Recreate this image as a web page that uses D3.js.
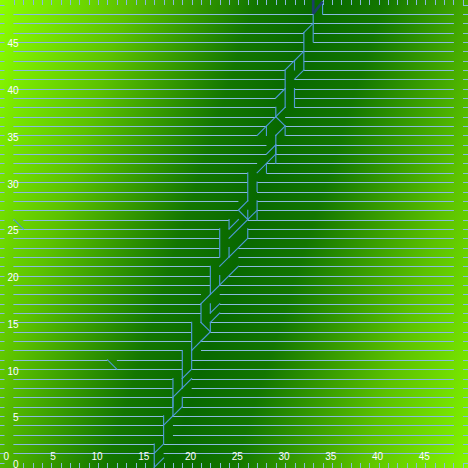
<!DOCTYPE html>
<html><head><meta charset="utf-8">
<script src="https://cdn.jsdelivr.net/npm/d3@7"></script>
<style>html,body{margin:0;padding:0;overflow:hidden}svg{display:block}</style>
</head><body><svg id="c" width="468" height="468"></svg>
<script>
// rows 1..48 : where each horizontal line stops (left part) and restarts (right part)
const rowValues  = d3.range(1, 49);
const leftEnd    = [15,15,16,16,16,17,17,17,17,18,18,18,19,19,19,20,20,20,21,21,21,22,22,22,22,23,24,24,25,25,25,26,27,27,26,27,28,28,28,29,29,29,30,31,31,31,32,32];
const rightStart = [16,16,17,17,17,18,18,19,19,19,19,20,20,21,21,22,22,22,22,23,24,24,24,25,25,25,26,26,26,26,27,27,28,28,29,29,29,30,30,30,30,31,31,31,32,32,32,33];
const lineMin = -0.07, lineMax = 47.05;
// extra breaks [row, from, to]
const rowBreaks = [[11,10,11],[26,0,1]];
// connector segments [x1,y1,x2,y2]
const trunk = [
 [15,2,15,-0.6],[15,-0.5,16,0.5],[16,5,16,2],[16,2,15,1],[17,7,17,5],[17,5,16,4],
 [18,7,18,6],[18,6,17,5],[18,9,18,8],[18,8,19,9],[17,9,17,6],[18,8,17,7],
 [18,12,18,9],[19,10,18,9],[19,12,19,10],[19,15,19,12],[20,13,19,12],[21,14,20,13],
 [21,15,21,14],[20,15,21,14],[22,16,21,15],[20,17,20,15],[21,17,21,16],[22,17,21,16],
 [22,19,20,17],[22,20,22,19],[24,21,22,19],[21,21,21,18],[23,22,22,21],[23,23,23,22],
 [25,24,23,22],[25,25,25,24],[22,25,22,22],[25,26,23,24],[23,26,23,25],[24,26,23,25],
 [24,27,25,26],[25,27,25,26],[25,26,26,27],[26,28,26,26],[25,31,25,28],[24,27,25,28],
 [26,30,26,29],[27,32,27,31],[26,31,28,33],[28,34,28,32],[27,33,28,34],[28,35,28,33],
 [28,35,29,36],[27,36,27,35],[29,36,29,35],[28,37,26,35],[28,37,29,36],[28,38,28,37],
 [28,37,29,38],[29,42,29,38],[30,40,30,38],[28,39,29,40],[30,41,31,42],[30,43,30,42],
 [29,42,30,43],[30,43,31,44],[31,46,31,42],[31,46,32,47],[32,48,32,45],[33,49.3,33,48],
 [0,26,1,25],[10,11,11,10]
];
const head = [[32,49.6,32,48],[32,48,33,49.3]];
const tickValuesX = d3.range(0, 49);
const tickValuesY = d3.range(0, 50);
const labelValues = [0,5,10,15,20,25,30,35,40,45];

const W = 468, H = 468;
const svg = d3.select('#c');
const x = d3.scaleLinear().domain([0, 48]).range([14, 14 + 9.35 * 48]);
const y = d3.scaleLinear().domain([0, 48]).range([462.65, 462.65 - 9.35 * 48]);

// background gradient (bright corners, dark diagonal band)
const defs = svg.append('defs');
const cx = 245, cy = 234, ux = 0.953, uy = 0.305, d = 305;
const g = defs.append('linearGradient').attr('id', 'bg').attr('gradientUnits', 'userSpaceOnUse')
  .attr('x1', cx - d * ux).attr('y1', cy - d * uy).attr('x2', cx + d * ux).attr('y2', cy + d * uy);
[[0, '#8cff00'], [0.2, '#5cc200'], [0.4, '#137600'], [0.5, '#086800'], [0.6, '#137600'], [0.8, '#5cc200'], [1, '#8cff00']]
  .forEach(s => g.append('stop').attr('offset', s[0]).attr('stop-color', s[1]));
svg.append('rect').attr('width', W).attr('height', H).attr('fill', 'url(#bg)');

const lineCol = '#88badf';
// row lines
const segs = [];
rowValues.forEach((k, i) => {
  let parts = [[lineMin, leftEnd[i]], [rightStart[i], lineMax]];
  rowBreaks.filter(b => b[0] === k).forEach(b => {
    const out = [];
    parts.forEach(p => {
      if (b[2] <= p[0] || b[1] >= p[1]) { out.push(p); return; }
      if (b[1] > p[0]) out.push([p[0], b[1]]);
      if (b[2] < p[1]) out.push([b[2], p[1]]);
    });
    parts = out;
  });
  parts.forEach(p => segs.push({ k, a: p[0], b: p[1] }));
});
svg.append('g').selectAll('line').data(segs).join('line')
  .attr('x1', s => x(s.a)).attr('x2', s => x(s.b))
  .attr('y1', s => Math.round(y(s.k)) + 0.5).attr('y2', s => Math.round(y(s.k)) + 0.5)
  .attr('stroke', lineCol).attr('stroke-width', 1.1);

// ticks on all four edges, pointing inward
const tk = svg.append('g').attr('stroke', lineCol).attr('stroke-width', 1);
tk.selectAll('.tt').data(tickValuesX).join('line').attr('class', 'tt')
  .attr('x1', v => Math.round(x(v)) + 0.5).attr('x2', v => Math.round(x(v)) + 0.5).attr('y1', 0).attr('y2', 5);
tk.selectAll('.tb').data(tickValuesX.slice(1)).join('line').attr('class', 'tb')
  .attr('x1', v => Math.round(x(v)) + 0.5).attr('x2', v => Math.round(x(v)) + 0.5).attr('y1', 463).attr('y2', H);
tk.selectAll('.tl').data(tickValuesY).join('line').attr('class', 'tl')
  .attr('y1', v => Math.round(y(v)) + 0.5).attr('y2', v => Math.round(y(v)) + 0.5).attr('x1', 0).attr('x2', 4.5);
tk.selectAll('.tr').data(tickValuesY).join('line').attr('class', 'tr')
  .attr('y1', v => Math.round(y(v)) + 0.5).attr('y2', v => Math.round(y(v)) + 0.5).attr('x1', 463).attr('x2', H);

// trunk connectors
svg.append('g').selectAll('line').data(trunk).join('line')
  .attr('x1', s => x(s[0])).attr('y1', s => y(s[1])).attr('x2', s => x(s[2])).attr('y2', s => y(s[3]))
  .attr('stroke', '#4f9ad6').attr('stroke-width', 1.15).attr('stroke-linecap', 'square');
svg.append('g').selectAll('line').data(head).join('line')
  .attr('x1', s => x(s[0])).attr('y1', s => y(s[1])).attr('x2', s => x(s[2])).attr('y2', s => y(s[3]))
  .attr('stroke', '#1b3f68').attr('stroke-width', 2.6);

// labels
const font = "'Liberation Sans', Arial, sans-serif";
svg.append('g').selectAll('text').data(labelValues).join('text')
  .attr('x', v => x(v) - 5).attr('y', 459.5).attr('text-anchor', 'end')
  .attr('font-family', font).attr('font-size', 10).attr('fill', '#fff').text(v => v);
svg.append('g').selectAll('text').data(labelValues).join('text')
  .attr('x', 18.5).attr('y', v => y(v) + 5.5).attr('text-anchor', 'end')
  .attr('font-family', font).attr('font-size', 10).attr('fill', '#fff').text(v => v);
</script></body></html>
